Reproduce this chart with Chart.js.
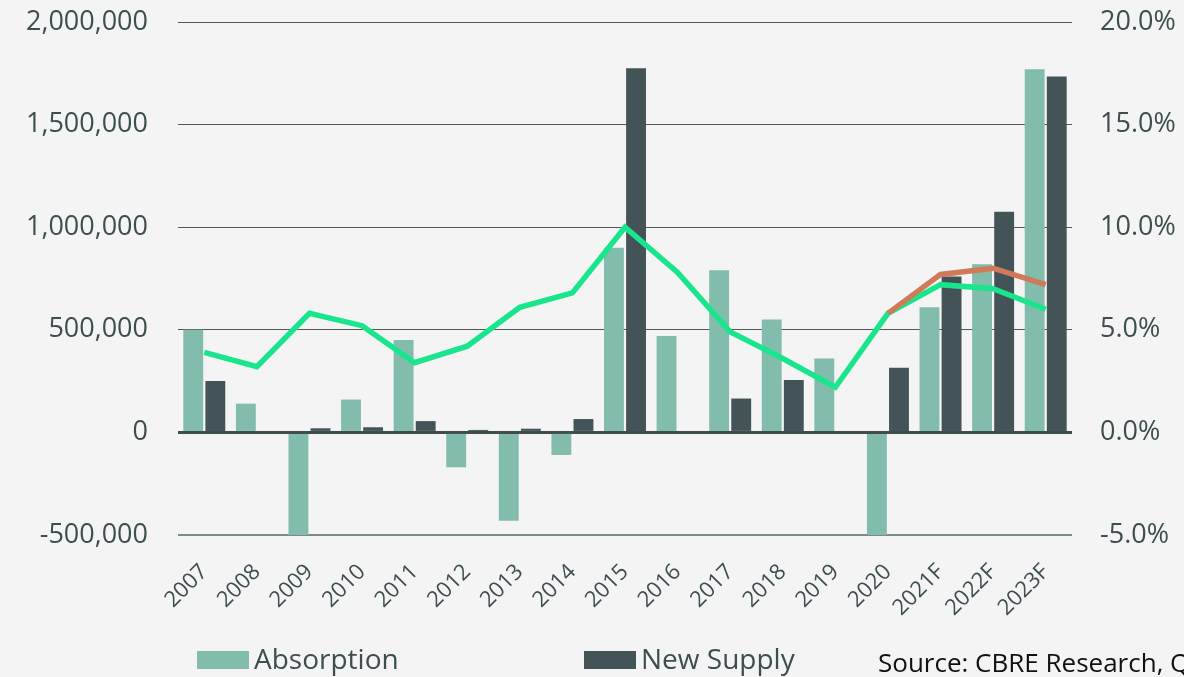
<!DOCTYPE html>
<html>
<head>
<meta charset="utf-8">
<script src="https://cdn.jsdelivr.net/npm/chart.js@4/dist/chart.umd.min.js"></script>
<style>
    html, body { margin: 0; padding: 0; background: #f4f4f4; }
    #wrap { position: relative; width: 1184px; height: 677px; overflow: hidden; }
    #chart { position: absolute; left: 0; top: 0; }
    .legend-box { position: absolute; top: 651px; width: 52px; height: 18px; }
    .legend-text { position: absolute; top: 644px; font-family: 'Open Sans', sans-serif; font-size: 28px;
        line-height: 28px; color: #3e4e50; white-space: nowrap; }
    #source { position: absolute; left: 878px; top: 649px; font-family: 'Open Sans', sans-serif;
        font-size: 26px; line-height: 26px; color: #111; white-space: nowrap; }
</style>
</head>
<body>
<div id="wrap">
    <canvas id="chart" width="1184" height="677"></canvas>
    <div class="legend-box" style="left:197px; background:#82bcac"></div>
    <div class="legend-text" style="left:254px">Absorption</div>
    <div class="legend-box" style="left:584px; background:#435357"></div>
    <div class="legend-text" style="left:641px">New Supply</div>
    <div id="source">Source: CBRE Research, Q3 2021</div>
</div>
<script>
// datos
const years = ['2007', '2008', '2009', '2010', '2011', '2012', '2013', '2014', '2015', '2016',
    '2017', '2018', '2019', '2020', '2021F', '2022F', '2023F'];
const absorption = [500000, 140000, -510000, 160000, 450000, -170000, -430000, -110000, 900000, 470000,
    790000, 550000, 360000, -510000, 610000, 820000, 1770000];
const newSupply = [250000, 0, 20000, 25000, 55000, 12000, 18000, 65000, 1775000, 0,
    165000, 255000, 0, 315000, 760000, 1075000, 1735000];
const vacancy = [3.9, 3.2, 5.8, 5.2, 3.4, 4.2, 6.1, 6.8, 10.0, 7.8,
    4.9, 3.6, 2.2, 5.8, 7.2, 7.0, 6.0];
const vacancyAlt = [null, null, null, null, null, null, null, null, null, null,
    null, null, null, 5.8, 7.7, 8.0, 7.2];

const textColor = '#3e4e50';

// quitar el relleno que agregan las etiquetas arriba/abajo
function fixVertical(width) {
    return (scale) => {
        scale.width = width;
        scale.paddingTop = 0;
        scale.paddingBottom = 0;
    };
}

new Chart(document.getElementById('chart'), {
    type: 'bar',
    data: {
        labels: years,
        datasets: [
            {
                type: 'line',
                label: 'Alt',
                data: vacancyAlt,
                yAxisID: 'y2',
                borderColor: '#d07a5a',
                borderWidth: 5.5,
                pointRadius: 0,
                order: 0
            },
            {
                type: 'line',
                label: 'Vacancy',
                data: vacancy,
                yAxisID: 'y2',
                borderColor: '#19e68c',
                borderWidth: 5.5,
                pointRadius: 0,
                order: 1
            },
            {
                label: 'Absorption',
                data: absorption,
                backgroundColor: '#82bcac',
                yAxisID: 'y',
                categoryPercentage: 0.84,
                barPercentage: 0.9,
                order: 2
            },
            {
                label: 'New Supply',
                data: newSupply,
                backgroundColor: '#435357',
                yAxisID: 'y',
                categoryPercentage: 0.84,
                barPercentage: 0.9,
                order: 2
            }
        ]
    },
    options: {
        responsive: false,
        animation: false,
        layout: { padding: { top: 22, left: 0, right: 0, bottom: 0 } },
        plugins: {
            legend: { display: false },
            tooltip: { enabled: false }
        },
        scales: {
            x: {
                grid: { display: false, drawTicks: false },
                border: { display: false },
                ticks: {
                    color: textColor,
                    font: { family: 'Open Sans', size: 22 },
                    maxRotation: 45,
                    minRotation: 45,
                    padding: 24,
                    autoSkip: false
                },
                afterFit: (scale) => {
                    scale.height = 142;
                    scale.paddingLeft = 0;
                    scale.paddingRight = 0;
                }
            },
            y: {
                position: 'left',
                min: -500000,
                max: 2000000,
                border: { display: false },
                grid: {
                    drawTicks: false,
                    color: (ctx) => {
                        if (ctx.tick.value === 0) return '#3f4d50';
                        if (ctx.tick.value === -500000) return '#7c8a8a';
                        return '#50585a';
                    },
                    lineWidth: (ctx) => {
                        if (ctx.tick.value === 0) return 3;
                        if (ctx.tick.value === -500000) return 2;
                        return 1;
                    }
                },
                ticks: {
                    stepSize: 500000,
                    color: textColor,
                    font: { family: 'Open Sans', size: 27 },
                    padding: 30,
                    callback: (v) => v.toLocaleString('en-US')
                },
                afterFit: fixVertical(178)
            },
            y2: {
                position: 'right',
                min: -5,
                max: 20,
                border: { display: false },
                grid: { display: false, drawTicks: false },
                ticks: {
                    stepSize: 5,
                    color: textColor,
                    font: { family: 'Open Sans', size: 27 },
                    padding: 28,
                    callback: (v) => v.toFixed(1) + '%'
                },
                afterFit: fixVertical(112)
            }
        }
    }
});
</script>
</body>
</html>
